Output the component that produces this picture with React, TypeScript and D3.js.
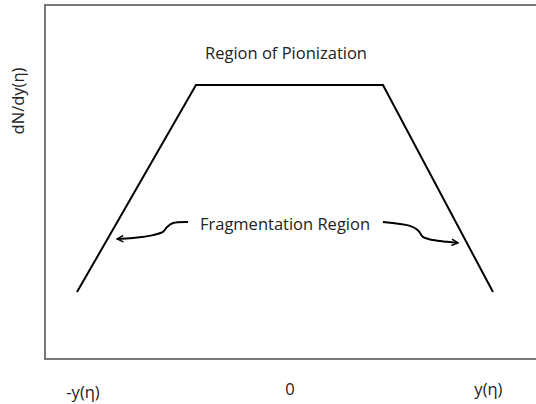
import React from "react";
import * as d3 from "d3";

const W = 536;
const H = 404;

// trapezoid (rapidity distribution sketch), x in [-1,1], y in [0,1]
const curveX = [-1, -0.428, 0.471, 1];
const curveY = [0.189, 0.774, 0.774, 0.189];

// tick labels along the x axis
const tickLabels = ["-y(η)", "0", "y(η)"];
const tickPos = [-0.971, 0.024, 0.978];

// annotation arrows (data coordinates)
const leftArrowX = [-0.466, -0.538, -0.567, -0.587, -0.635, -0.731, -0.808];
const leftArrowY = [0.387, 0.384, 0.373, 0.359, 0.35, 0.342, 0.339];
const rightArrowX = [0.471, 0.601, 0.639, 0.663, 0.712, 0.779, 0.832];
const rightArrowY = [0.387, 0.376, 0.364, 0.345, 0.336, 0.331, 0.328];

const FONT = "'Open Sans', Lato, sans-serif";
const FS = 16.5;

export default function App() {
  const x = d3.scaleLinear().domain([-1, 1]).range([77, 493]);
  const y = d3.scaleLinear().domain([0, 1]).range([359, 5]);

  const line = d3
    .line<[number, number]>()
    .x((d) => x(d[0]))
    .y((d) => y(d[1]));
  const smooth = d3
    .line<[number, number]>()
    .x((d) => x(d[0]))
    .y((d) => y(d[1]))
    .curve(d3.curveCatmullRom);

  const pts = curveX.map((v, i) => [v, curveY[i]] as [number, number]);
  const lp = leftArrowX.map((v, i) => [v, leftArrowY[i]] as [number, number]);
  const rp = rightArrowX.map((v, i) => [v, rightArrowY[i]] as [number, number]);

  return (
    <svg
      width={W}
      height={H}
      style={{ position: "absolute", left: 0, top: 0, background: "#fff" }}
    >
      <defs>
        <marker
          id="ah"
          viewBox="0 0 10 10"
          refX="9"
          refY="5"
          markerWidth="8"
          markerHeight="8"
          orient="auto"
          markerUnits="userSpaceOnUse"
        >
          <path d="M1,1 L9,5 L1,9" fill="none" stroke="#000" strokeWidth="1.8" />
        </marker>
      </defs>
      {/* frame */}
      <path
        d={`M${W + 2},${y(1)} H45 V${y(0)} H${W + 2}`}
        fill="none"
        stroke="#777"
        strokeWidth={2}
      />
      <path d={line(pts) || ""} fill="none" stroke="#000" strokeWidth={2} />
      <path
        d={smooth(lp) || ""}
        fill="none"
        stroke="#000"
        strokeWidth={2}
        markerEnd="url(#ah)"
      />
      <path
        d={smooth(rp) || ""}
        fill="none"
        stroke="#000"
        strokeWidth={2}
        markerEnd="url(#ah)"
      />
      <text
        x={286}
        y={59}
        textAnchor="middle"
        fontFamily={FONT}
        fontSize={FS}
        fill="#222"
      >
        Region of Pionization
      </text>
      <text
        x={285}
        y={230}
        textAnchor="middle"
        fontFamily={FONT}
        fontSize={FS}
        fill="#222"
      >
        Fragmentation Region
      </text>
      <text
        transform={`translate(24,101) rotate(-90)`}
        textAnchor="middle"
        fontFamily={FONT}
        fontSize={FS}
        fill="#222"
      >
        dN/dy(η)
      </text>
      {tickLabels.map((t, i) => (
        <text
          key={t}
          x={x(tickPos[i])}
          y={i === 0 ? 398 : 395}
          textAnchor="middle"
          fontFamily={FONT}
          fontSize={FS}
          fill="#222"
        >
          {t}
        </text>
      ))}
    </svg>
  );
}
